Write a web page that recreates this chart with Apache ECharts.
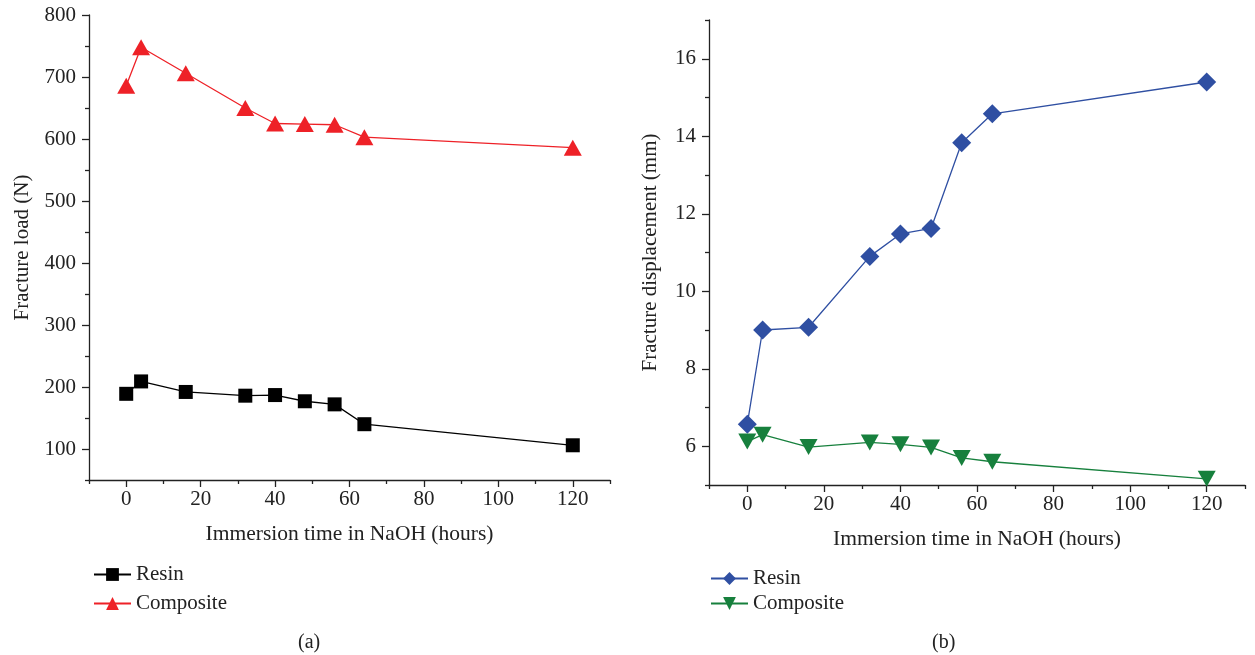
<!DOCTYPE html>
<html>
<head>
<meta charset="utf-8">
<script src="https://cdn.jsdelivr.net/npm/echarts@6/dist/echarts.min.js"></script>
<style>html,body{margin:0;padding:0;background:#fff;}#c{width:1255px;height:655px;}</style>
</head>
<body>
<div id="c"></div>
<script>
// Data
const hours = [0, 4, 16, 32, 40, 48, 56, 64, 120];
const loadResin = [189, 209, 192, 186, 187, 177, 172, 140, 106];
const loadComposite = [686, 748, 706, 650, 625, 624, 623, 603, 586];
const dispResin = [6.57, 9.0, 9.07, 10.9, 11.48, 11.62, 13.83, 14.58, 15.4];
const dispComposite = [6.12, 6.3, 5.98, 6.1, 6.05, 5.97, 5.7, 5.6, 5.16];
const xTicks = [0, 20, 40, 60, 80, 100, 120];
const xMinorTicks = [-10, 10, 30, 50, 70, 90, 110, 130];
const loadTicks = [100, 200, 300, 400, 500, 600, 700, 800];
const loadMinorTicks = [50, 150, 250, 350, 450, 550, 650, 750];
const dispTicks = [6, 8, 10, 12, 14, 16];
const dispMinorTicks = [5, 7, 9, 11, 13, 15, 17];
const xName = 'Immersion time in NaOH (hours)';
const loadName = 'Fracture load (N)';
const dispName = 'Fracture displacement (mm)';
const seriesNames = ['Resin', 'Composite'];

const FONT = 'Liberation Serif';
const txt = {fontFamily: FONT, fontSize: 21, color: '#222'};
const line = {show: true, onZero: false, lineStyle: {color: '#222', width: 1.3}};

function mainX(grid) {
  return {
    type: 'value', gridIndex: grid, position: 'bottom', min: -10, max: 130,
    axisLine: line, splitLine: {show: false},
    axisTick: {show: true, inside: false, length: 7, customValues: xTicks, lineStyle: {color: '#222', width: 1.3}},
    axisLabel: Object.assign({customValues: xTicks, margin: 9}, txt),
    name: xName, nameLocation: 'middle', nameGap: 43, nameTextStyle: Object.assign({}, txt, {fontSize: 21.5})
  };
}
function minorX(grid) {
  return {
    type: 'value', gridIndex: grid, position: 'bottom', min: -10, max: 130,
    axisLine: {show: false, onZero: false}, splitLine: {show: false}, axisLabel: {show: false},
    axisTick: {show: true, length: 4, customValues: xMinorTicks, lineStyle: {color: '#222', width: 1.3}}
  };
}
function mainY(grid, min, max, ticks, name, gap) {
  return {
    type: 'value', gridIndex: grid, position: 'left', min: min, max: max,
    axisLine: line, splitLine: {show: false},
    axisTick: {show: true, length: 7, customValues: ticks, lineStyle: {color: '#222', width: 1.3}},
    axisLabel: Object.assign({customValues: ticks, margin: 13}, txt),
    name: name, nameLocation: 'middle', nameGap: gap, nameRotate: 90,
    nameTextStyle: Object.assign({}, txt, {fontSize: 21})
  };
}
function minorY(grid, min, max, ticks) {
  return {
    type: 'value', gridIndex: grid, position: 'left', min: min, max: max,
    axisLine: {show: false, onZero: false}, splitLine: {show: false}, axisLabel: {show: false},
    axisTick: {show: true, length: 4, customValues: ticks, lineStyle: {color: '#222', width: 1.3}}
  };
}
function pairs(xs, ys) { return xs.map((x, i) => [x, ys[i]]); }

const chart = echarts.init(document.getElementById('c'), null, {renderer: 'canvas'});
chart.setOption({
  animation: false,
  backgroundColor: '#fff',
  grid: [
    {left: 89, top: 15, width: 521, height: 465},
    {left: 709, top: 20, width: 536, height: 465}
  ],
  xAxis: [mainX(0), minorX(0), mainX(1), minorX(1)],
  yAxis: [
    mainY(0, 50, 800, loadTicks, loadName, 56), minorY(0, 50, 800, loadMinorTicks),
    mainY(1, 5, 17, dispTicks, dispName, 48), minorY(1, 5, 17, dispMinorTicks)
  ],
  legend: [
    {
      orient: 'vertical', left: 88, top: 559, itemWidth: 37, itemHeight: 16, itemGap: 8,
      textStyle: Object.assign({}, txt, {fontSize: 21}),
      data: [seriesNames[0], seriesNames[1]],
      selectedMode: false
    },
    {
      orient: 'vertical', left: 705, top: 563, itemWidth: 37, itemHeight: 16, itemGap: 4,
      textStyle: Object.assign({}, txt, {fontSize: 21}),
      data: [seriesNames[0] + ' ', seriesNames[1] + ' '],
      formatter: n => n.trim(),
      selectedMode: false
    }
  ],
  series: [
    {
      name: seriesNames[0], type: 'line', xAxisIndex: 0, yAxisIndex: 0,
      data: pairs(hours, loadResin), symbol: 'rect', symbolSize: 14,
      itemStyle: {color: '#000'}, lineStyle: {color: '#000', width: 1.3}
    },
    {
      name: seriesNames[1], type: 'line', xAxisIndex: 0, yAxisIndex: 0,
      data: pairs(hours, loadComposite), symbol: 'triangle', symbolSize: [18, 16],
      itemStyle: {color: '#ee2127'}, lineStyle: {color: '#ee2127', width: 1.3}
    },
    {
      name: seriesNames[0] + ' ', type: 'line', xAxisIndex: 2, yAxisIndex: 2,
      data: pairs(hours, dispResin), symbol: 'diamond', symbolSize: [19, 19],
      itemStyle: {color: '#2f4fa2'}, lineStyle: {color: '#2f4fa2', width: 1.3}
    },
    {
      name: seriesNames[1] + ' ', type: 'line', xAxisIndex: 2, yAxisIndex: 2,
      data: pairs(hours, dispComposite), symbol: 'path://M0,0 L10,0 L5,9 Z', symbolSize: [18, 16],
      itemStyle: {color: '#17803d'}, lineStyle: {color: '#17803d', width: 1.3}
    }
  ],
  graphic: [
    {type: 'text', left: 298, top: 633, style: {text: '(a)', font: '20px "Liberation Serif"', fill: '#222'}},
    {type: 'text', left: 932, top: 633, style: {text: '(b)', font: '20px "Liberation Serif"', fill: '#222'}}
  ]
});
</script>
</body>
</html>
